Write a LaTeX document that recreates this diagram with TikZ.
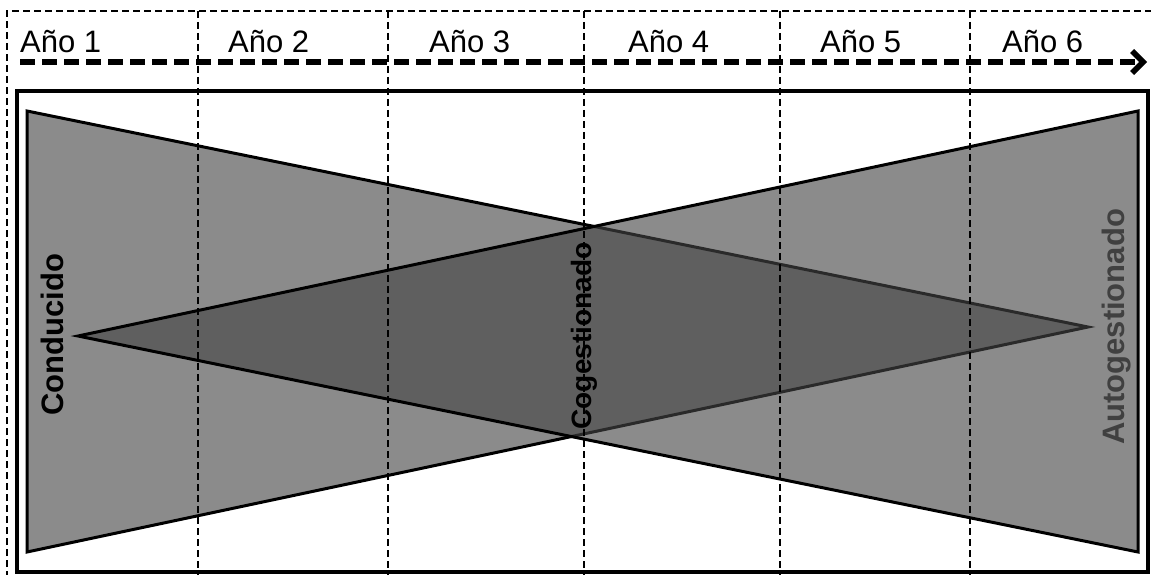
\documentclass[tikz,border=0pt]{standalone}
\usepackage{fontspec}
\setmainfont{Liberation Sans}
\usetikzlibrary{arrows.meta}
\definecolor{trifill}{RGB}{68,68,68}
\definecolor{autotext}{RGB}{64,64,64}
\begin{document}
\begin{tikzpicture}[x=1pt,y=-1pt,
  gridline/.style={line width=2.2pt, dash pattern=on 7pt off 4pt},
  tri/.style={line width=3pt, line join=miter, fill=trifill, fill opacity=0.62},
  year/.style={anchor=base west, inner sep=0pt, font=\fontsize{31}{36}\selectfont},
  lab/.style={rotate=90, inner sep=0pt, font=\bfseries\fontsize{31}{36}\selectfont},
  timeline/.style={line width=5.5pt, dash pattern=on 15pt off 7pt, -{Straight Barb[length=11pt,width=22pt]}}]
\useasboundingbox (0,0) rectangle (1151,575);
\clip (0,0) rectangle (1151,575);
% triangles
\coordinate (a1) at (27,111);
\coordinate (a2) at (27,552);
\coordinate (a3) at (1088,327);
\coordinate (b1) at (1138,111);
\coordinate (b2) at (1138,552);
\coordinate (b3) at (78,336);
\draw[tri] (a1) -- (a3) -- (a2) -- cycle;
\draw[tri] (b1) -- (b3) -- (b2) -- cycle;
% grid
\draw[gridline] (7,600) -- (7,11) -- (1170,11);
\foreach \x/\n in {198/g1,388/g2,584/g3,780/g4,970/g5}{
  \coordinate (\n t) at (\x,11);
  \coordinate (\n b) at (\x,600);
  \draw[gridline] (\n t) -- (\n b);
}
% inner frame
\draw[line width=3.2pt] (17,91) rectangle (1148,572);
% labels in triangles
\node[lab] (cond) at (52,335) {Conducido};
\node[lab, font=\bfseries\fontsize{28}{34}\selectfont] (coges) at (584,336) {Cogestionado};
\node[lab, text=autotext] (autog) at (1117,327) {Autogestionado};
% timeline
\coordinate (as) at (20,62);
\coordinate (ae) at (1147,62);
\draw[timeline] (as) -- (ae);
% years
\node[year] (y1) at (20,53) {Año 1};
\node[year] (y2) at (228,53) {Año 2};
\node[year] (y3) at (429,53) {Año 3};
\node[year] (y4) at (628,53) {Año 4};
\node[year] (y5) at (820,53) {Año 5};
\node[year] (y6) at (1002,53) {Año 6};
\end{tikzpicture}
\end{document}
